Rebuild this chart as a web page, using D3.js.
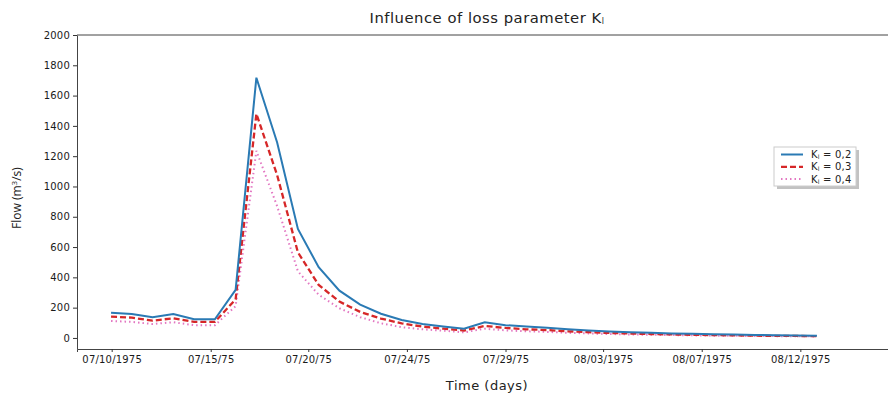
<!DOCTYPE html>
<html>
<head>
<meta charset="utf-8">
<script src="https://cdn.jsdelivr.net/npm/d3@7"></script>
<style>
  body { margin: 0; background: #fff; }
  svg { display: block; font-family: 'DejaVu Sans', sans-serif; }
  .tick text { font-family: 'DejaVu Sans', sans-serif; font-size: 10px; letter-spacing: 0.2px; fill: #1a1a1a; }
  .tick line { stroke: #333; }
  .domain { stroke: #444; }
</style>
</head>
<body>
<svg id="chart"></svg>
<script>
// flow values per day (m3/s)
const k02 = [167, 158, 137, 158, 123, 123, 317, 1718, 1290, 720, 467, 312, 220, 160, 119, 92, 75, 61, 104, 84, 76, 68, 57, 49, 43, 38, 34, 30, 27, 24, 22, 20, 18, 16, 15]
const k03 = [141, 134, 114, 130, 106, 106, 255, 1480, 1075, 565, 350, 240, 172, 128, 96, 75, 61, 49, 79, 66, 57, 52, 44, 38, 33, 29, 26, 23, 21, 19, 17, 15, 14, 13, 12]
const k04 = [112, 106, 92, 104, 84, 84, 210, 1235, 870, 440, 285, 196, 137, 97, 71, 57, 48, 37, 61, 50, 44, 40, 34, 30, 26, 23, 21, 19, 17, 15, 14, 13, 12, 11, 10]

const seriesNames = ['0,2', '0,3', '0,4']
const xTickPos = [0.03, 4.8, 9.5, 14.25, 19.0, 23.7, 28.45, 33.2]
const xTickLabels = ['07/10/1975', '07/15/75', '07/20/75', '07/24/75', '07/29/75', '08/03/1975', '08/07/1975', '08/12/1975']
const yTicks = [0, 200, 400, 600, 800, 1000, 1200, 1400, 1600, 1800, 2000]

const w = 888, h = 394
const mL = 77, mR = 900, mT = 35, mB = 349

const svg = d3.select('#chart').attr('width', w).attr('height', h)

const scX = d3.scaleLinear().domain([-1.64, 38]).range([mL, mR])
const scY = d3.scaleLinear().domain([-73, 2000]).range([mB, mT])

// spines
svg.append('line')
  .attr('x1', mL).attr('x2', mR).attr('y1', mT).attr('y2', mT)
  .attr('stroke', '#444')

const xAx = d3.axisBottom(scX)
  .tickValues(xTickPos)
  .tickFormat((d, i) => xTickLabels[i])
  .tickSize(3).tickPadding(4)
svg.append('g').attr('transform', `translate(0, ${mB})`).call(xAx)

const yAx = d3.axisLeft(scY).tickValues(yTicks).tickFormat(d3.format('d'))
  .tickSize(4).tickPadding(3).tickSizeOuter(0)
svg.append('g').attr('transform', `translate(${mL}, 0)`).call(yAx)
svg.selectAll('.domain').attr('stroke', '#444')

// lines
const styles = [
  { data: k02, color: '#2a7ab4', width: 2, dash: null },
  { data: k03, color: '#d62728', width: 2.3, dash: '6,3' },
  { data: k04, color: '#e377c2', width: 2, dash: '1.5,3' }
]

const line = d3.line().x((d, i) => scX(i)).y(d => scY(d))

svg.append('g').selectAll('path')
  .data(styles.slice().reverse()).enter().append('path')
  .attr('d', s => line(s.data))
  .attr('fill', 'none')
  .attr('stroke', s => s.color)
  .attr('stroke-width', s => s.width)
  .attr('stroke-dasharray', s => s.dash)

// title with subscript
const title = svg.append('text')
  .attr('x', 487).attr('y', 23)
  .attr('text-anchor', 'middle')
  .style('font-size', '14.8px')
  .style('letter-spacing', '0.5px')
  .attr('fill', '#222')
title.append('tspan').text('Influence of loss parameter K')
title.append('tspan').text('l').style('font-size', '8px').attr('dy', 1)

// axis labels
svg.append('text')
  .attr('transform', 'translate(21, 198) rotate(-90)')
  .attr('text-anchor', 'middle')
  .style('font-family', "'Open Sans', sans-serif")
  .style('font-size', '12px')
  .attr('fill', '#222')
  .html('Flow (m<tspan dy="-4" font-size="8">3</tspan><tspan dy="4">/s)</tspan>')

svg.append('text')
  .attr('x', 487).attr('y', 390)
  .attr('text-anchor', 'middle')
  .style('font-size', '13px')
  .style('letter-spacing', '0.5px')
  .attr('fill', '#222')
  .text('Time (days)')

// legend
const lg = svg.append('g').attr('transform', 'translate(774, 147)')
lg.append('rect').attr('x', 3).attr('y', 3).attr('width', 82).attr('height', 39)
  .attr('fill', '#999').attr('opacity', 0.6)
lg.append('rect').attr('width', 82).attr('height', 39)
  .attr('fill', '#fff').attr('stroke', '#ccc')

const rows = lg.selectAll('g.row').data(styles).enter().append('g')
  .attr('transform', (d, i) => `translate(0, ${7.5 + i * 12.3})`)
rows.append('line')
  .attr('x1', 7).attr('x2', 29)
  .attr('stroke', d => d.color)
  .attr('stroke-width', d => d.width)
  .attr('stroke-dasharray', d => d.dash)
const lt = rows.append('text').attr('x', 37).attr('y', 3.6)
  .style('font-size', '10px').style('letter-spacing', '0.2px').attr('fill', '#222')
lt.append('tspan').text('K')
lt.append('tspan').text('l').style('font-size', '6px').attr('dy', 1)
lt.append('tspan').text((d, i) => ' = ' + seriesNames[i]).attr('dy', -1)
</script>
</body>
</html>
